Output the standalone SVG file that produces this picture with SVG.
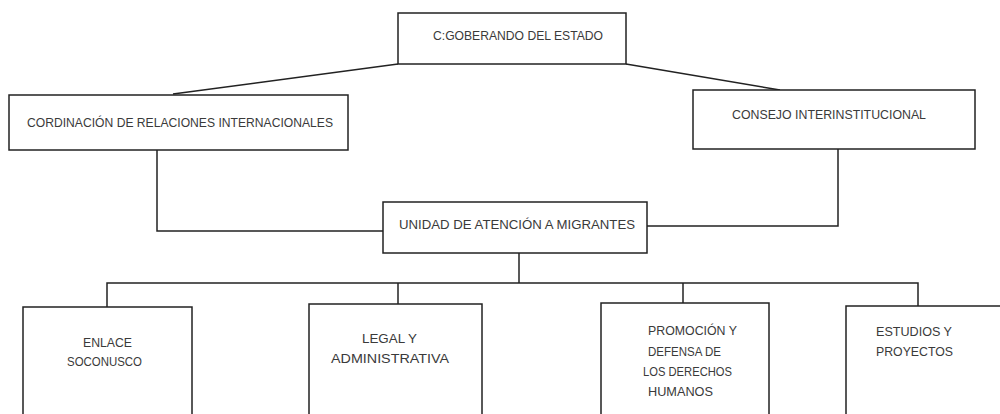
<svg xmlns="http://www.w3.org/2000/svg" width="1000" height="414" viewBox="0 0 1000 414">
<style>
.box{fill:#fff;stroke:#222;stroke-width:1.5}
.con{fill:none;stroke:#222;stroke-width:1.5}
text{font-family:"Liberation Sans",Arial,sans-serif;font-size:13px;fill:#3a3a3a}
</style>
<rect width="1000" height="414" fill="#fff"/>
<g id="connectors">
<polyline class="con" points="398,64 173,94"/>
<polyline class="con" points="626,64 780,90"/>
<polyline class="con" points="157,150 157,231 383,231"/>
<polyline class="con" points="838,149 838,226 647,226"/>
<polyline class="con" points="519,253 519,283"/>
<polyline class="con" points="107,307 107,283 918,283 918,306"/>
<polyline class="con" points="398,283 398,304"/>
<polyline class="con" points="683,283 683,303"/>
</g>
<g id="gobernador">
<rect class="box" x="398" y="13" width="228" height="51"/>
<text x="433" y="40" textLength="170" lengthAdjust="spacingAndGlyphs">C:GOBERANDO DEL ESTADO</text>
</g>
<g id="coordinacion">
<rect class="box" x="9" y="95" width="339" height="55"/>
<text x="27" y="127" textLength="306" lengthAdjust="spacingAndGlyphs">CORDINACIÓN DE RELACIONES INTERNACIONALES</text>
</g>
<g id="consejo">
<rect class="box" x="693" y="90" width="282" height="59"/>
<text x="732" y="119" textLength="194" lengthAdjust="spacingAndGlyphs">CONSEJO INTERINSTITUCIONAL</text>
</g>
<g id="unidad">
<rect class="box" x="383" y="202" width="264" height="51"/>
<text x="399" y="229" textLength="236" lengthAdjust="spacingAndGlyphs">UNIDAD DE ATENCIÓN A MIGRANTES</text>
</g>
<g id="enlace">
<rect class="box" x="23" y="307" width="169" height="120"/>
<text x="83" y="347" textLength="49" lengthAdjust="spacingAndGlyphs">ENLACE</text>
<text x="67" y="366" textLength="75" lengthAdjust="spacingAndGlyphs">SOCONUSCO</text>
</g>
<g id="legal">
<rect class="box" x="309" y="304" width="173" height="120"/>
<text x="362" y="343" textLength="55" lengthAdjust="spacingAndGlyphs">LEGAL Y</text>
<text x="331" y="363" textLength="118" lengthAdjust="spacingAndGlyphs">ADMINISTRATIVA</text>
</g>
<g id="promocion">
<rect class="box" x="601" y="303" width="168" height="120"/>
<text x="648" y="335" textLength="89" lengthAdjust="spacingAndGlyphs">PROMOCIÓN Y</text>
<text x="648" y="356" textLength="73" lengthAdjust="spacingAndGlyphs">DEFENSA DE</text>
<text x="643" y="376" textLength="89" lengthAdjust="spacingAndGlyphs">LOS DERECHOS</text>
<text x="648" y="396" textLength="65" lengthAdjust="spacingAndGlyphs">HUMANOS</text>
</g>
<g id="estudios">
<rect class="box" x="846" y="306" width="170" height="120"/>
<text x="876" y="336" textLength="76" lengthAdjust="spacingAndGlyphs">ESTUDIOS Y</text>
<text x="876" y="356" textLength="77" lengthAdjust="spacingAndGlyphs">PROYECTOS</text>
</g>
</svg>
